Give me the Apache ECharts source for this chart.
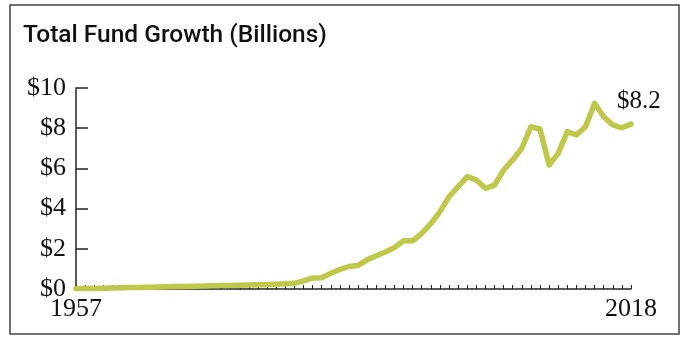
<!DOCTYPE html>
<html><head><meta charset="utf-8">
<script src="https://cdn.jsdelivr.net/npm/echarts@6/dist/echarts.min.js"></script>
<style>html,body{margin:0;padding:0;background:#fff}#c{width:681px;height:337px}</style>
</head><body><div id="c"></div>
<script>
const years = [];
for (let y = 1957; y <= 2018; y++) years.push(String(y));
const fundValues = [
  0.02,0.03,0.03,0.04,0.05,0.06,0.07,0.08,0.09,0.10,
  0.11,0.12,0.13,0.14,0.15,0.16,0.17,0.18,0.19,0.20,
  0.21,0.22,0.24,0.26,0.28,0.40,0.55,0.56,0.78,0.97,
  1.12,1.17,1.45,1.65,1.84,2.06,2.40,2.40,2.77,3.25,
  3.85,4.59,5.09,5.59,5.42,5.01,5.17,5.92,6.42,7.00,
  8.07,7.96,6.17,6.75,7.83,7.66,8.07,9.24,8.57,8.16,
  8.02,8.20
];
const yTicks = [0, 2, 4, 6, 8, 10];
const titleText = 'Total Fund Growth (Billions)';

const chart = echarts.init(document.getElementById('c'), null, {renderer: 'canvas'});
const serif = '"Liberation Serif", "Times New Roman", serif';
chart.setOption({
  animation: false,
  backgroundColor: '#fff',
  title: {
    text: titleText, left: 18, top: 18,
    textStyle: {fontFamily: 'Roboto', fontWeight: 500, fontSize: 24.5, color: '#111'}
  },
  graphic: [{
    type: 'rect', shape: {x: 10, y: 5, width: 669, height: 329},
    style: {fill: 'none', stroke: '#444', lineWidth: 1.5}, silent: true
  }],
  grid: {left: 76, right: 50, top: 88, bottom: 48},
  xAxis: {
    type: 'category', data: years, boundaryGap: false,
    axisLine: {lineStyle: {color: '#222', width: 1.5}},
    axisTick: {inside: true, length: 4, interval: 0, lineStyle: {color: '#222', width: 1}},
    axisLabel: {
      interval: (i) => i === 0 || i === years.length - 1,
      margin: 7, fontFamily: serif, fontSize: 26, color: '#111'
    },
    splitLine: {show: false}
  },
  yAxis: {
    type: 'value', min: yTicks[0], max: yTicks[yTicks.length - 1], interval: 2,
    axisLine: {show: true, lineStyle: {color: '#222', width: 1.5}},
    axisTick: {show: true, inside: true, length: 12, lineStyle: {color: '#222', width: 1.5}},
    axisLabel: {formatter: v => '$' + v, margin: 10, fontFamily: serif, fontSize: 26, color: '#111'},
    splitLine: {show: false}
  },
  series: [{
    type: 'line', data: fundValues, symbol: 'none', smooth: false,
    lineStyle: {color: '#bec94b', width: 5.5, cap: 'round', join: 'round'},
    endLabel: {
      show: true, formatter: p => '$' + p.value.toFixed(1),
      offset: [-22, -23], fontFamily: serif, fontSize: 25, color: '#111'
    }
  }]
});
</script></body></html>
